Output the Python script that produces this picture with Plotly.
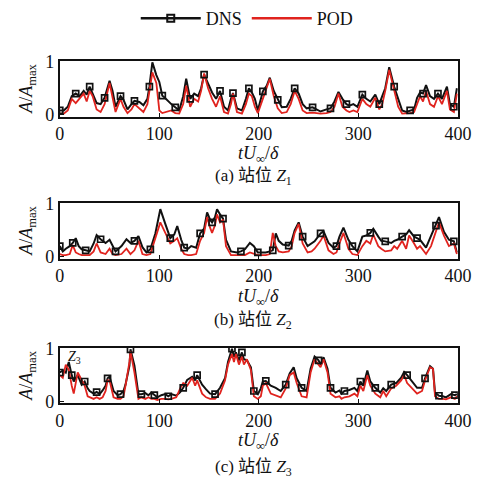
import plotly.graph_objects as go

# ---------------- data ----------------
t1 = [0, 4, 8, 12, 16, 20, 24, 27, 30, 33, 37, 41, 45, 50, 53, 56, 61, 64, 68, 72,
      75, 80, 84, 88, 90, 93, 97, 100, 103, 105, 109, 112, 116, 120, 124, 127, 131, 135, 139, 142,
      145, 149, 153, 157, 161, 165, 169, 172, 174, 178, 183, 187, 190, 193, 196, 199, 204, 208, 211, 215,
      219, 223, 228, 232, 236, 240, 244, 248, 254, 258, 262, 268, 272, 276, 280, 284, 288, 291, 295, 299,
      304, 308, 312, 317, 321, 324, 327, 331, 336, 340, 344, 348, 352, 356, 359, 362, 365, 368, 372, 376,
      380, 384, 389, 392, 396, 399]
dns1 = [0.08, 0.08, 0.15, 0.35, 0.40, 0.35, 0.45, 0.38, 0.53, 0.40, 0.22, 0.20, 0.32, 0.64, 0.45, 0.15, 0.35, 0.28, 0.10, 0.20,
        0.26, 0.24, 0.18, 0.30, 0.53, 0.99, 0.75, 0.62, 0.36, 0.33, 0.25, 0.20, 0.14, 0.08, 0.35, 0.68, 0.30, 0.40, 0.35, 0.50,
        0.76, 0.58, 0.42, 0.30, 0.45, 0.15, 0.08, 0.30, 0.41, 0.12, 0.08, 0.30, 0.50, 0.42, 0.30, 0.08, 0.44, 0.55, 0.70, 0.45,
        0.28, 0.14, 0.15, 0.30, 0.50, 0.40, 0.20, 0.12, 0.14, 0.10, 0.06, 0.10, 0.12, 0.25, 0.43, 0.30, 0.20, 0.17, 0.20, 0.15,
        0.38, 0.30, 0.25, 0.38, 0.20, 0.35, 0.50, 0.90, 0.53, 0.30, 0.08, 0.05, 0.08, 0.10, 0.32, 0.42, 0.40, 0.56, 0.35, 0.30,
        0.40, 0.30, 0.53, 0.20, 0.15, 0.50]
pod1 = [0.02, 0.02, 0.08, 0.30, 0.22, 0.30, 0.40, 0.25, 0.45, 0.35, 0.10, 0.05, 0.20, 0.60, 0.35, 0.05, 0.30, 0.15, 0.03, 0.10,
        0.20, 0.12, 0.05, 0.20, 0.45, 0.80, 0.60, 0.08, 0.03, 0.04, 0.06, 0.08, 0.03, 0.02, 0.20, 0.55, 0.15, 0.30, 0.25, 0.45,
        0.78, 0.50, 0.30, 0.15, 0.35, 0.05, 0.02, 0.20, 0.40, 0.05, 0.02, 0.20, 0.40, 0.35, 0.15, 0.03, 0.30, 0.50, 0.68, 0.35,
        0.12, 0.03, 0.05, 0.20, 0.45, 0.30, 0.08, 0.03, 0.04, 0.03, 0.02, 0.03, 0.05, 0.15, 0.40, 0.15, 0.08, 0.05, 0.08, 0.05,
        0.30, 0.20, 0.15, 0.32, 0.10, 0.20, 0.45, 0.85, 0.45, 0.15, 0.02, 0.02, 0.03, 0.05, 0.20, 0.35, 0.25, 0.45, 0.20, 0.15,
        0.35, 0.20, 0.45, 0.10, 0.05, 0.40]

t2 = [0, 3, 6, 10, 13, 16, 19, 22, 26, 30, 34, 37, 41, 46, 50, 53, 56, 62, 67, 71,
      75, 79, 83, 87, 91, 96, 101, 106, 111, 115, 118, 122, 125, 129, 132, 137, 141, 145, 148, 151,
      153, 156, 158, 161, 164, 167, 172, 178, 182, 186, 191, 195, 199, 203, 207, 211, 214, 217, 220, 224,
      230, 233, 236, 240, 244, 249, 253, 256, 262, 265, 270, 275, 278, 281, 285, 290, 294, 299, 304, 308,
      312, 315, 320, 323, 327, 333, 336, 339, 344, 348, 351, 356, 359, 362, 368, 373, 378, 381, 386, 391,
      396, 399]
dns2 = [0.20, 0.10, 0.15, 0.20, 0.26, 0.35, 0.20, 0.14, 0.12, 0.10, 0.25, 0.41, 0.33, 0.26, 0.32, 0.20, 0.10, 0.20, 0.33, 0.26,
        0.30, 0.39, 0.18, 0.08, 0.14, 0.44, 0.90, 0.62, 0.35, 0.42, 0.58, 0.32, 0.17, 0.15, 0.20, 0.17, 0.44, 0.53, 0.84, 0.70,
        0.65, 0.75, 0.90, 0.80, 0.72, 0.32, 0.10, 0.08, 0.10, 0.14, 0.26, 0.20, 0.08, 0.08, 0.08, 0.10, 0.12, 0.44, 0.30, 0.23,
        0.21, 0.30, 0.50, 0.65, 0.38, 0.20, 0.25, 0.29, 0.44, 0.48, 0.26, 0.17, 0.20, 0.38, 0.55, 0.32, 0.20, 0.10, 0.38, 0.40,
        0.45, 0.53, 0.38, 0.30, 0.29, 0.26, 0.30, 0.32, 0.38, 0.42, 0.50, 0.38, 0.35, 0.32, 0.17, 0.38, 0.59, 0.75, 0.47, 0.32,
        0.29, 0.08]
pod2 = [0.05, 0.03, 0.03, 0.05, 0.22, 0.08, 0.05, 0.03, 0.03, 0.03, 0.10, 0.25, 0.08, 0.05, 0.15, 0.05, 0.03, 0.05, 0.15, 0.05,
        0.12, 0.30, 0.05, 0.03, 0.05, 0.35, 0.65, 0.45, 0.25, 0.30, 0.35, 0.15, 0.05, 0.03, 0.03, 0.05, 0.30, 0.45, 0.75, 0.55,
        0.45, 0.60, 0.80, 0.65, 0.70, 0.20, 0.03, 0.03, 0.03, 0.03, 0.08, 0.05, 0.03, 0.03, 0.03, 0.05, 0.45, 0.20, 0.10, 0.08,
        0.10, 0.20, 0.45, 0.62, 0.25, 0.08, 0.10, 0.15, 0.30, 0.40, 0.12, 0.05, 0.08, 0.25, 0.45, 0.15, 0.05, 0.03, 0.20, 0.30,
        0.25, 0.42, 0.20, 0.15, 0.10, 0.12, 0.20, 0.15, 0.30, 0.15, 0.40, 0.25, 0.15, 0.20, 0.05, 0.20, 0.50, 0.65, 0.40, 0.20,
        0.25, 0.05]

t3 = [0, 3, 6, 9, 12, 14, 18, 22, 25, 28, 30, 34, 37, 40, 43, 46, 48, 50, 54, 58,
      61, 64, 66, 70, 71, 73, 75, 79, 82, 86, 89, 92, 95, 98, 102, 106, 109, 112, 117, 121,
      124, 128, 133, 136, 138, 143, 147, 151, 156, 161, 166, 169, 173, 175, 177, 180, 183, 185, 188, 192,
      195, 199, 202, 204, 207, 212, 217, 222, 227, 231, 235, 238, 243, 248, 252, 256, 260, 262, 265, 269,
      272, 277, 281, 283, 286, 291, 296, 299, 302, 305, 309, 312, 317, 322, 325, 328, 333, 338, 343, 346,
      349, 354, 359, 364, 367, 372, 375, 377, 381, 385, 388, 393, 397, 399]
dns3 = [0.55, 0.59, 0.55, 0.75, 0.50, 0.38, 0.50, 0.32, 0.38, 0.25, 0.20, 0.15, 0.18, 0.14, 0.21, 0.30, 0.44, 0.47, 0.20, 0.12,
        0.14, 0.20, 0.32, 0.68, 0.99, 0.80, 0.68, 0.14, 0.14, 0.16, 0.12, 0.17, 0.12, 0.08, 0.12, 0.14, 0.10, 0.14, 0.11, 0.18,
        0.26, 0.41, 0.47, 0.40, 0.50, 0.32, 0.23, 0.15, 0.14, 0.26, 0.44, 0.75, 1.00, 0.85, 0.93, 0.78, 0.93, 0.80, 0.78, 0.65,
        0.20, 0.14, 0.25, 0.38, 0.39, 0.30, 0.26, 0.20, 0.32, 0.53, 0.65, 0.44, 0.26, 0.20, 0.62, 0.85, 0.78, 0.70, 0.84, 0.62,
        0.26, 0.17, 0.21, 0.15, 0.20, 0.22, 0.26, 0.20, 0.38, 0.30, 0.59, 0.38, 0.26, 0.17, 0.25, 0.20, 0.32, 0.35, 0.45, 0.56,
        0.50, 0.38, 0.26, 0.26, 0.44, 0.67, 0.62, 0.17, 0.11, 0.10, 0.08, 0.14, 0.12, 0.14]
pod3 = [0.50, 0.45, 0.70, 0.60, 0.30, 0.15, 0.55, 0.40, 0.30, 0.10, 0.08, 0.05, 0.08, 0.05, 0.08, 0.20, 0.40, 0.40, 0.08, 0.05,
        0.05, 0.10, 0.30, 0.75, 0.95, 0.75, 0.55, 0.05, 0.08, 0.05, 0.08, 0.05, 0.05, 0.03, 0.05, 0.05, 0.04, 0.05, 0.08, 0.25,
        0.35, 0.30, 0.45, 0.30, 0.40, 0.15, 0.08, 0.05, 0.05, 0.15, 0.40, 0.70, 0.90, 0.75, 0.90, 0.70, 0.85, 0.70, 0.80, 0.60,
        0.10, 0.05, 0.10, 0.30, 0.35, 0.15, 0.12, 0.08, 0.25, 0.50, 0.55, 0.35, 0.10, 0.08, 0.55, 0.80, 0.70, 0.65, 0.80, 0.55,
        0.15, 0.08, 0.10, 0.05, 0.08, 0.10, 0.15, 0.10, 0.30, 0.20, 0.50, 0.30, 0.15, 0.08, 0.20, 0.10, 0.25, 0.30, 0.40, 0.50,
        0.35, 0.25, 0.15, 0.20, 0.40, 0.65, 0.62, 0.10, 0.05, 0.05, 0.04, 0.08, 0.05, 0.10]

x_ticks = [0, 100, 200, 300, 400]
y_ticks = [0, 1]
captions = ["(a) 站位 <i>Z</i><sub>1</sub>", "(b) 站位 <i>Z</i><sub>2</sub>", "(c) 站位 <i>Z</i><sub>3</sub>"]
series_names = ["DNS", "POD"]

panels = [(t1, dns1, pod1), (t2, dns2, pod2), (t3, dns3, pod3)]

# ---------------- layout geometry (pixels) ----------------
W, H = 494, 493
FONT = "Liberation Serif, Times New Roman, Noto Sans CJK SC, serif"
BLACK = "#111111"
RED = "#e0231e"
x_dom = [57 / W, 471 / W]
boxes = [(51, 109), (199, 257), (350, 408)]   # top, bottom in px
title_y = [149, 298, 448]
caption_y = [172, 322, 475]

def py(px):
    return 1 - px / H

fig = go.Figure()
for i, (t, d, p) in enumerate(panels):
    xa = "x" if i == 0 else f"x{i+1}"
    ya = "y" if i == 0 else f"y{i+1}"
    fig.add_trace(go.Scatter(x=t, y=d, mode="lines", line=dict(color=BLACK, width=2.0),
                             showlegend=False, xaxis=xa, yaxis=ya, hoverinfo="skip"))
    fig.add_trace(go.Scatter(x=t, y=p, mode="lines", line=dict(color=RED, width=1.8),
                             showlegend=False, xaxis=xa, yaxis=ya, hoverinfo="skip"))
    fig.add_trace(go.Scatter(x=t[::4], y=d[::4], mode="markers",
                             marker=dict(symbol="square-open", size=6, color=BLACK, line=dict(width=1.7)),
                             showlegend=False, xaxis=xa, yaxis=ya, hoverinfo="skip"))

# legend entries
fig.add_trace(go.Scatter(x=[None], y=[None], mode="lines+markers", name=series_names[0],
                         line=dict(color=BLACK, width=2.5),
                         marker=dict(symbol="square-open", size=7, color=BLACK, line=dict(width=2))))
fig.add_trace(go.Scatter(x=[None], y=[None], mode="lines", name=series_names[1],
                         line=dict(color=RED, width=2.5)))

layout = dict(
    width=W, height=H,
    margin=dict(l=0, r=0, t=0, b=0),
    paper_bgcolor="white", plot_bgcolor="white",
    font=dict(family=FONT, size=18, color=BLACK),
    legend=dict(orientation="h", x=0.51, xanchor="center", y=1.026, yanchor="top",
                font=dict(size=18), bgcolor="rgba(0,0,0,0)", itemwidth=60),
    showlegend=True,
)
annotations = []
for i in range(3):
    sfx = "" if i == 0 else str(i + 1)
    top, bot = boxes[i]
    layout["xaxis" + sfx] = dict(
        domain=x_dom, range=[0, 400], tickvals=x_ticks, ticks="inside", ticklen=4,
        tickwidth=1.3, tickcolor=BLACK, showline=True, linecolor=BLACK, linewidth=2, mirror=True,
        showgrid=False, zeroline=False, anchor="y" + sfx, tickfont=dict(size=18),
    )
    layout["yaxis" + sfx] = dict(
        domain=[py(bot), py(top)], range=[-0.036, 1.018], tickvals=y_ticks, ticks="inside",
        ticklen=4, tickwidth=1.3, tickcolor=BLACK, showline=True, linecolor=BLACK, linewidth=2,
        mirror=True, showgrid=False, zeroline=False, anchor="x" + sfx, tickfont=dict(size=18),
    )
    annotations.append(dict(text="<i>tU</i><sub>∞</sub>/<i>δ</i>", xref="paper", yref="paper",
                            x=264 / W, y=py(title_y[i]), xanchor="center", yanchor="middle",
                            showarrow=False, font=dict(size=18)))
    annotations.append(dict(text=captions[i], xref="paper", yref="paper",
                            x=258 / W, y=py(caption_y[i]), xanchor="center", yanchor="middle",
                            showarrow=False, font=dict(size=17)))
    annotations.append(dict(text="<i>A</i>/<i>A</i><sub>max</sub>", xref="paper", yref="paper",
                            x=24 / W, y=py((top + bot) / 2), xanchor="center", yanchor="middle",
                            textangle=-90, showarrow=False, font=dict(size=18)))
annotations.append(dict(text="<i>Z</i><sub>3</sub>", xref="paper", yref="paper",
                        x=72 / W, y=py(360), xanchor="center", yanchor="middle",
                        showarrow=False, font=dict(size=14)))
layout["annotations"] = annotations
fig.update_layout(**layout)

fig.write_html("out.html")
